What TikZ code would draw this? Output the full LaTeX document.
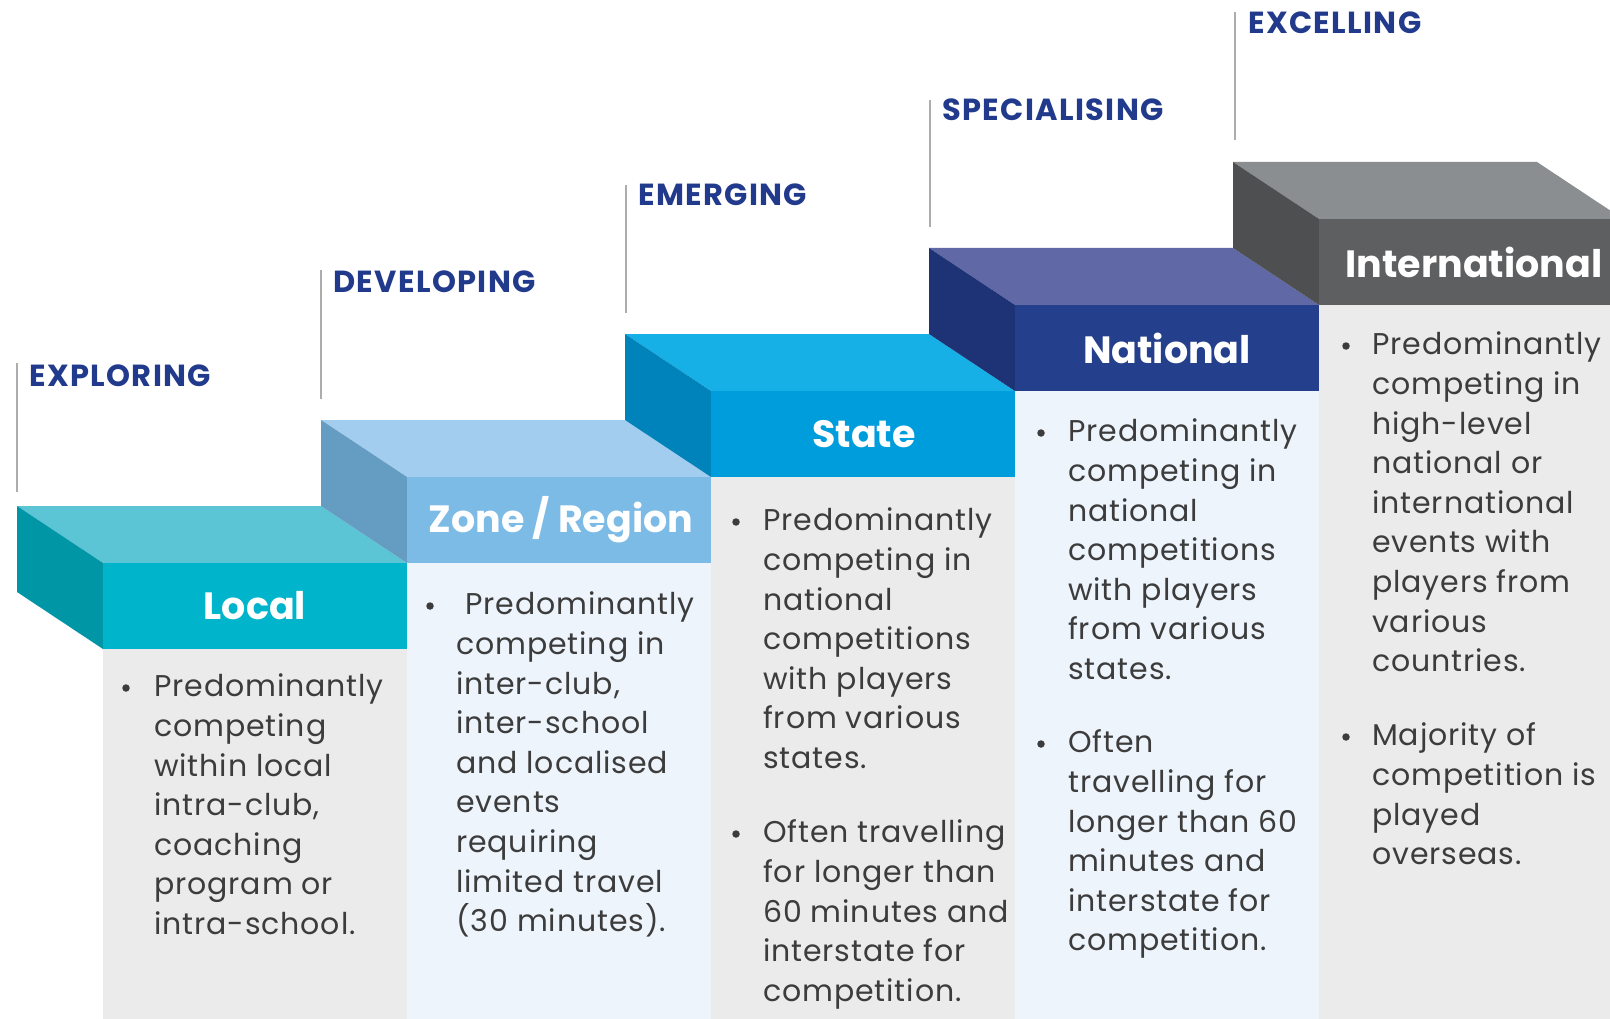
\documentclass[tikz,border=0pt]{standalone}
\usepackage{fontspec}
\setmainfont{Poppins}
\newfontfamily\bodyfont{Poppins}[LetterSpace=3]
\newfontfamily\headfont{Poppins}[LetterSpace=4.5]
\definecolor{headblue}{HTML}{213A8C}
\definecolor{bodytxt}{HTML}{3C3C3C}
\definecolor{vline}{HTML}{ADADAD}
\definecolor{colgray}{HTML}{EBEBEB}
\definecolor{colblue}{HTML}{EEF4FC}
\definecolor{locTop}{HTML}{5BC5D6}
\definecolor{locFront}{HTML}{00B4CC}
\definecolor{locSide}{HTML}{0096A6}
\definecolor{zonTop}{HTML}{A3CDEE}
\definecolor{zonFront}{HTML}{7BBBE6}
\definecolor{zonSide}{HTML}{649CC2}
\definecolor{staTop}{HTML}{17B0E6}
\definecolor{staFront}{HTML}{009DDD}
\definecolor{staSide}{HTML}{0082BA}
\definecolor{natTop}{HTML}{6168A6}
\definecolor{natFront}{HTML}{243F8C}
\definecolor{natSide}{HTML}{1E3375}
\definecolor{intTop}{HTML}{8B8E90}
\definecolor{intFront}{HTML}{5E5F61}
\definecolor{intSide}{HTML}{4E4F51}
% #1 front-left x, #2 front-top y, #3 top, #4 front, #5 side, #6 column colour
\newcommand{\drawstair}[6]{%
  \fill[#6] (#1,#2+86) rectangle (#1+304,1019);
  \fill[#3] (#1-86,#2-57) -- (#1+218,#2-57) -- (#1+304,#2) -- (#1,#2) -- cycle;
  \fill[#5] (#1-86,#2-57) -- (#1,#2) -- (#1,#2+86) -- (#1-86,#2+29) -- cycle;
  \fill[#4] (#1,#2) rectangle (#1+304,#2+86);
}
\begin{document}
\begin{tikzpicture}[x=1pt,y=-1pt,
  steptitle/.style={text=white,font=\fontsize{38}{44}\selectfont\bfseries,inner sep=0},
  stagelabel/.style={text=headblue,font=\headfont\fontsize{30.5}{36}\selectfont\bfseries,anchor=base west,inner sep=0},
  bodytext/.style={text=bodytxt,font=\bodyfont\fontsize{30}{39.6}\selectfont,align=left,anchor=north west,inner sep=0},
  bulletdot/.style={circle,fill=bodytxt,inner sep=0,minimum size=7.5pt},
  stageline/.style={draw=vline,line width=2.2pt}]
\useasboundingbox (0,0) rectangle (1610,1019);
\fill[white] (0,0) rectangle (1610,1019);
\begin{scope}
\clip (0,0) rectangle (1610,1019);
\drawstair{103}{563}{locTop}{locFront}{locSide}{colgray}
\drawstair{407}{477}{zonTop}{zonFront}{zonSide}{colblue}
\drawstair{711}{391}{staTop}{staFront}{staSide}{colgray}
\drawstair{1015}{305}{natTop}{natFront}{natSide}{colblue}
\drawstair{1319}{219}{intTop}{intFront}{intSide}{colgray}
\end{scope}

% step titles
\node[steptitle] (tLocal) at (255,606) {Local};
\node[steptitle] (tZone) at (561,520) {Zone / Region};
\node[steptitle] (tState) at (864,434) {State};
\node[steptitle] (tNational) at (1167,348) {National};
\node[steptitle] (tInternational) at (1474,262) {International};

% stage lines
\coordinate (l0a) at (17,363); \coordinate (l0b) at (17,492);
\coordinate (l1a) at (321,270); \coordinate (l1b) at (321,399);
\coordinate (l2a) at (626,185); \coordinate (l2b) at (626,313);
\coordinate (l3a) at (930,100); \coordinate (l3b) at (930,227);
\coordinate (l4a) at (1235,12); \coordinate (l4b) at (1235,140);
\draw[stageline] (l0a) -- (l0b);
\draw[stageline] (l1a) -- (l1b);
\draw[stageline] (l2a) -- (l2b);
\draw[stageline] (l3a) -- (l3b);
\draw[stageline] (l4a) -- (l4b);

% stage labels
\node[stagelabel] (sExploring) at (29,386) {EXPLORING};
\node[stagelabel] (sDeveloping) at (333,292) {DEVELOPING};
\node[stagelabel] (sEmerging) at (638,206) {EMERGING};
\node[stagelabel] (sSpecialising) at (942,121) {SPECIALISING};
\node[stagelabel] (sExcelling) at (1248,34) {EXCELLING};

% Local column
\node[bulletdot] (bL1) at (126,688) {};
\node[bodytext] (pL1) at (154,669) {\strut Predominantly\\competing\\within local\\intra-club,\\coaching\\program or\\intra-school.};

% Zone column
\node[bulletdot] (bZ1) at (430,606) {};
\node[bodytext] (pZ1) at (456,587) {\strut\hspace{9pt}Predominantly\\competing in\\inter-club,\\inter-school\\and localised\\events\\requiring\\limited travel\\(30 minutes).};

% State column
\node[bulletdot] (bS1) at (736,522) {};
\node[bodytext] (pS1) at (763,503) {\strut Predominantly\\competing in\\national\\competitions\\with players\\from various\\states.};
\node[bulletdot] (bS2) at (736,834) {};
\node[bodytext] (pS2) at (763,815) {\strut Often travelling\\for longer than\\60 minutes and\\interstate for\\competition.};

% National column
\node[bulletdot] (bN1) at (1041,433) {};
\node[bodytext] (pN1) at (1068,414) {\strut Predominantly\\competing in\\national\\competitions\\with players\\from various\\states.};
\node[bulletdot] (bN2) at (1041,744) {};
\node[bodytext] (pN2) at (1068,725) {\strut Often\\travelling for\\longer than 60\\minutes and\\interstate for\\competition.};

% International column
\node[bulletdot] (bI1) at (1346,346) {};
\node[bodytext] (pI1) at (1372,327) {\strut Predominantly\\competing in\\high-level\\national or\\international\\events with\\players from\\various\\countries.};
\node[bulletdot] (bI2) at (1346,737) {};
\node[bodytext] (pI2) at (1372,718) {\strut Majority of\\competition is\\played\\overseas.};
\end{tikzpicture}
\end{document}
